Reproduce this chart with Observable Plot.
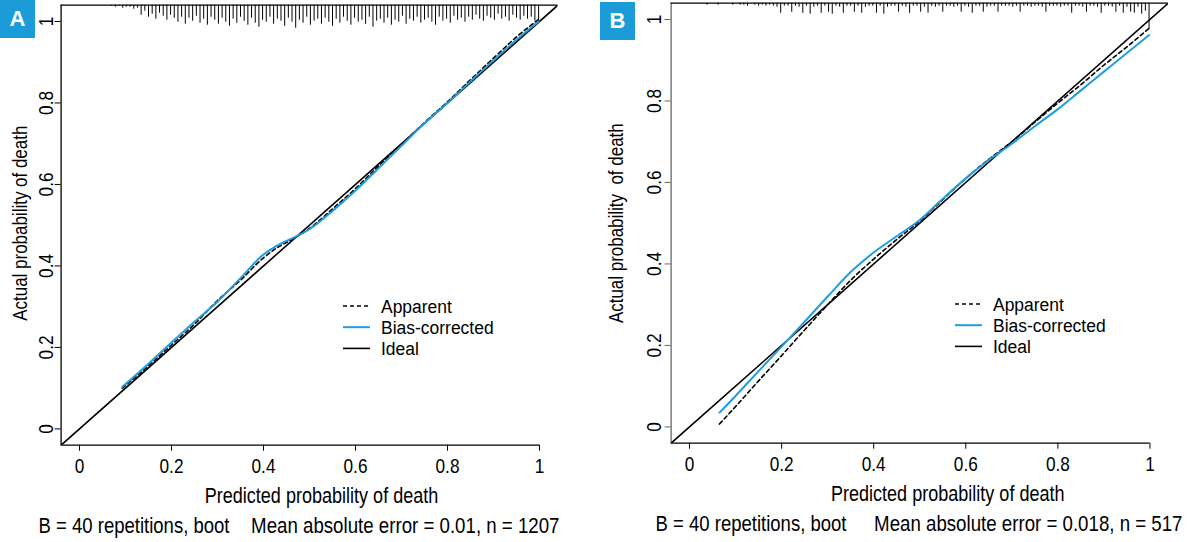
<!DOCTYPE html>
<html>
<head>
<meta charset="utf-8">
<script src="https://cdn.jsdelivr.net/npm/d3@7"></script>
<script src="https://cdn.jsdelivr.net/npm/@observablehq/plot@0.6"></script>
<style>
  html, body { margin: 0; padding: 0; background: #fff; }
  #wrap { position: relative; width: 1194px; height: 542px; overflow: hidden; }
  .panel { position: absolute; top: 0; }
  .tag { position: absolute; background: #1b9bd7; color: #fff; font-weight: bold; font-size: 22px;
         display: flex; align-items: center; justify-content: center; }
  #legend { position: absolute; left: 0; top: 0; pointer-events: none; }
</style>
</head>
<body>
<div id="wrap"></div>
<script>
const FONT = '"Liberation Sans", Arial, sans-serif';
const NARROW = 0.82; // condense glyphs horizontally to mimic a narrow face
const BLUE = "#1e9ee0";

// ---------- shared ----------
const xTicks = [0, 0.2, 0.4, 0.6, 0.8, 1];
const yTicks = [0, 0.2, 0.4, 0.6, 0.8, 1];
const axisRange = [-0.04, 1.04];
const xLabel = "Predicted probability of death";
const legendLabels = ["Apparent", "Bias-corrected", "Ideal"];

// ---------- panel A ----------
const calX_A     = [0.093,0.15,0.2,0.25,0.3,0.35,0.4,0.43,0.47,0.5,0.55,0.6,0.65,0.7,0.75,0.8,0.85,0.9,0.95,0.998];
const bias_A     = [0.103,0.16,0.212,0.263,0.312,0.37,0.428,0.45,0.472,0.49,0.535,0.585,0.64,0.695,0.75,0.8,0.853,0.905,0.955,1.0];
const apparent_A = [0.1,0.155,0.206,0.257,0.315,0.365,0.42,0.445,0.47,0.492,0.54,0.59,0.645,0.698,0.752,0.803,0.857,0.91,0.962,1.005];
const rugX_A = [0.070,0.078,0.086,0.094,0.102,0.110,0.118,0.126,0.134,0.142,0.150,0.158,0.166,0.174,0.182,0.190,0.198,0.206,0.214,0.222,0.230,0.238,0.246,0.254,0.262,0.270,0.278,0.286,0.294,0.302,0.310,0.318,0.326,0.334,0.342,0.350,0.358,0.366,0.374,0.382,0.390,0.398,0.406,0.414,0.422,0.430,0.438,0.446,0.454,0.462,0.470,0.478,0.486,0.494,0.502,0.510,0.518,0.526,0.534,0.542,0.550,0.558,0.566,0.574,0.582,0.590,0.598,0.606,0.614,0.622,0.630,0.638,0.646,0.654,0.662,0.670,0.678,0.686,0.694,0.702,0.710,0.718,0.726,0.734,0.742,0.750,0.758,0.766,0.774,0.782,0.790,0.798,0.806,0.814,0.822,0.830,0.838,0.846,0.854,0.862,0.870,0.878,0.886,0.894,0.902,0.910,0.918,0.926,0.934,0.942,0.950,0.958,0.966,0.974,0.982,0.990,0.998];
const rugN_A = [1,2,1,3,2,2,4,3,
  10,6,12,9,14,8,11,15,10,13,17,12,19,
  13,16,11,18,14,20,12,15,19,13,17,21,14,18,12,
  16,20,13,18,22,15,17,12,19,14,16,21,13,17,23,
  15,18,12,20,16,14,19,13,17,21,14,18,12,16,20,
  13,17,15,19,12,22,16,14,18,13,20,15,17,11,19,
  14,16,12,18,15,13,17,20,12,16,14,18,11,15,13,
  17,12,15,10,14,16,11,13,15,9,14,12,16,10,13,15,11,14,12,16,18];
const yLabel_A = "Actual probability of death";
const capL_A = "B = 40 repetitions, boot";
const capR_A = "Mean absolute error = 0.01, n = 1207";

// ---------- panel B ----------
const calX_B     = [0.065,0.1,0.15,0.2,0.25,0.3,0.35,0.4,0.45,0.5,0.55,0.6,0.65,0.7,0.75,0.8,0.85,0.9,0.95,0.998];
const bias_B     = [0.035,0.076,0.137,0.197,0.258,0.32,0.38,0.428,0.468,0.508,0.56,0.61,0.655,0.695,0.738,0.78,0.826,0.872,0.918,0.962];
const apparent_B = [0.007,0.05,0.113,0.175,0.238,0.3,0.36,0.412,0.46,0.505,0.558,0.61,0.657,0.7,0.748,0.795,0.84,0.888,0.933,0.978];
const rugX_B = [0.038,0.046,0.054,0.062,0.070,0.078,0.086,0.094,0.102,0.110,0.118,0.126,0.134,0.142,0.150,0.158,0.166,0.174,0.182,0.190,0.198,0.206,0.214,0.222,0.230,0.238,0.246,0.254,0.262,0.270,0.278,0.286,0.294,0.302,0.310,0.318,0.326,0.334,0.342,0.350,0.358,0.366,0.374,0.382,0.390,0.398,0.406,0.414,0.422,0.430,0.438,0.446,0.454,0.462,0.470,0.478,0.486,0.494,0.502,0.510,0.518,0.526,0.534,0.542,0.550,0.558,0.566,0.574,0.582,0.590,0.598,0.606,0.614,0.622,0.630,0.638,0.646,0.654,0.662,0.670,0.678,0.686,0.694,0.702,0.710,0.718,0.726,0.734,0.742,0.750,0.758,0.766,0.774,0.782,0.790,0.798,0.806,0.814,0.822,0.830,0.838,0.846,0.854,0.862,0.870,0.878,0.886,0.894,0.902,0.910,0.918,0.926,0.934,0.942,0.950,0.958,0.966,0.974,0.982,0.990,0.998];
const rugN_B = [2,0,0,2,0,0,0,2,0,2,
  2,3,0,2,3,2,3,2,3,4,
  10,3,3,9,3,4,10,3,11,4,
  3,10,3,9,11,3,4,10,3,3,
  9,3,10,4,3,3,10,3,11,4,
  3,3,9,3,4,10,3,3,9,4,
  10,3,4,3,9,3,3,4,3,9,
  3,4,10,3,3,9,4,3,3,9,
  3,3,3,4,3,9,3,3,4,3,
  3,4,9,3,3,3,4,3,3,10,
  3,3,4,9,3,3,4,10,3,3,
  4,9,3,10,4,9,10,4,11,8,26];
const yLabel_B = "Actual probability\u00a0 of death";
const capL_B = "B = 40 repetitions, boot";
const capR_B = "Mean absolute error = 0.018, n = 517";

function panel(cfg) {
  const [LO, HI] = axisRange;
  const app = cfg.calX.map((x, i) => ({x, y: cfg.apparent[i]}));
  const bc = cfg.calX.map((x, i) => ({x, y: cfg.bias[i]}));
  const rug = cfg.rugX.map((x, i) => ({x, n: cfg.rugN[i]})).filter(d => d.n > 0);
  const ideal = [{x: LO, y: LO}, {x: HI, y: HI}];
  const innerH = 542 - cfg.m.t - cfg.m.b;
  const k = (HI - LO) / innerH; // one count = one pixel of spike
  const fmt = d => String(d);
  return Plot.plot({
    width: 597, height: 542,
    marginLeft: cfg.m.l, marginRight: cfg.m.r, marginTop: cfg.m.t, marginBottom: cfg.m.b,
    x: {domain: axisRange},
    y: {domain: axisRange},
    style: {fontFamily: FONT, fontSize: "21px", color: "#000", background: "transparent", overflow: "visible"},
    marks: [
      Plot.ruleX(rug, {x: "x", y1: HI, y2: d => HI - d.n * k, stroke: "#000", strokeWidth: 1}),
      Plot.ruleX([LO], {stroke: cfg.yAxisColor, strokeWidth: 1.3}),
      Plot.ruleY([HI], {stroke: "#000", strokeWidth: 1.3}),
      Plot.ruleY([LO], {x1: LO, x2: 1, stroke: "#000", strokeWidth: 1.3}),
      Plot.axisX(xTicks, {tickSize: 6, tickPadding: 7, tickFormat: fmt, label: null, fontSize: 21, stroke: "#000"}),
      Plot.axisY(yTicks, {tickSize: 6, tickPadding: cfg.yPad, tickRotate: -90, tickFormat: fmt, label: null, fontSize: 21, stroke: cfg.yAxisColor}),
      Plot.line(ideal, {x: "x", y: "y", stroke: "#000", strokeWidth: 1.6, clip: true}),
      Plot.line(app, {x: "x", y: "y", stroke: "#000", strokeWidth: 1.6, strokeDasharray: "4,3", curve: "monotone-x"}),
      Plot.line(bc, {x: "x", y: "y", stroke: BLUE, strokeWidth: 2, curve: "monotone-x"}),
      Plot.text([xLabel], {frameAnchor: "bottom", textAnchor: "middle", lineAnchor: "middle", dx: cfg.xTitleDx, dy: 51, fontSize: 22}),
      Plot.text([cfg.yLabel], {frameAnchor: "left", textAnchor: "middle", lineAnchor: "middle", rotate: -90, dx: cfg.yTitleDx, dy: cfg.yTitleDy, fontSize: cfg.yTitleSize}),
      Plot.text([cfg.capL], {frameAnchor: "bottom-left", textAnchor: "start", lineAnchor: "middle", dx: cfg.capLDx, dy: 81, fontSize: 22.6}),
      Plot.text([cfg.capR], {frameAnchor: "bottom-left", textAnchor: "start", lineAnchor: "middle", dx: cfg.capRDx, dy: 81, fontSize: 22.8})
    ]
  });
}

const wrap = document.getElementById("wrap");

const chartA = panel({
  calX: calX_A, bias: bias_A, apparent: apparent_A, rugX: rugX_A, rugN: rugN_A,
  yLabel: yLabel_A, capL: capL_A, capR: capR_A, yAxisColor: "#000", yPad: 2,
  m: {l: 60.6, r: 39.6, t: 4.7, b: 97.3},
  xTitleDx: 12, yTitleDx: -41, yTitleDy: -2, yTitleSize: 20.7, capLDx: -22.6, capRDx: 190
});
const chartB = panel({
  calX: calX_B, bias: bias_B, apparent: apparent_B, rugX: rugX_B, rugN: rugN_B,
  yLabel: yLabel_B, capL: capL_B, capR: capR_B, yAxisColor: "#666", yPad: 4,
  m: {l: 73.6, r: 26.1, t: 2.7, b: 99.3},
  xTitleDx: 28, yTitleDx: -55, yTitleDy: 0, yTitleSize: 20.7, capLDx: -15.6, capRDx: 203
});

const pa = document.createElement("div"); pa.className = "panel"; pa.style.left = "0px"; pa.appendChild(chartA);
const pb = document.createElement("div"); pb.className = "panel"; pb.style.left = "597px"; pb.appendChild(chartB);
wrap.appendChild(pa); wrap.appendChild(pb);

// panel tags
[["A", 0, 0], ["B", 600, 2]].forEach(([t, l, tp]) => {
  const d = document.createElement("div");
  d.className = "tag"; d.textContent = t;
  d.style.left = l + "px"; d.style.top = tp + "px"; d.style.width = "35px"; d.style.height = "38px";
  d.style.fontFamily = FONT;
  wrap.appendChild(d);
});

// condense every chart text horizontally (narrow typeface look), scaling about its own anchor
wrap.querySelectorAll("svg text").forEach(t => {
  const tr = t.getAttribute("transform") || "";
  t.setAttribute("transform", (tr + ` scale(${NARROW},1)`).trim());
});

// legends
const svg = d3.select(wrap).append("svg").attr("id", "legend").attr("width", 1194).attr("height", 542)
  .style("font-family", FONT).style("font-size", "18.8px");
const legStyles = [{stroke: "#000", dash: "4,3", w: 1.6}, {stroke: BLUE, dash: null, w: 2}, {stroke: "#000", dash: null, w: 1.6}];
[{x: 343, y: 306}, {x: 955, y: 304}].forEach(pos => {
  legendLabels.forEach((lab, i) => {
    const y = pos.y + i * 21.2;
    svg.append("line").attr("x1", pos.x).attr("x2", pos.x + 27).attr("y1", y).attr("y2", y)
      .attr("stroke", legStyles[i].stroke).attr("stroke-width", legStyles[i].w)
      .attr("stroke-dasharray", legStyles[i].dash);
    svg.append("text").attr("transform", `translate(${pos.x + 38},${y}) scale(0.93,1)`)
      .attr("dy", "0.35em").text(lab);
  });
});
</script>
</body>
</html>
